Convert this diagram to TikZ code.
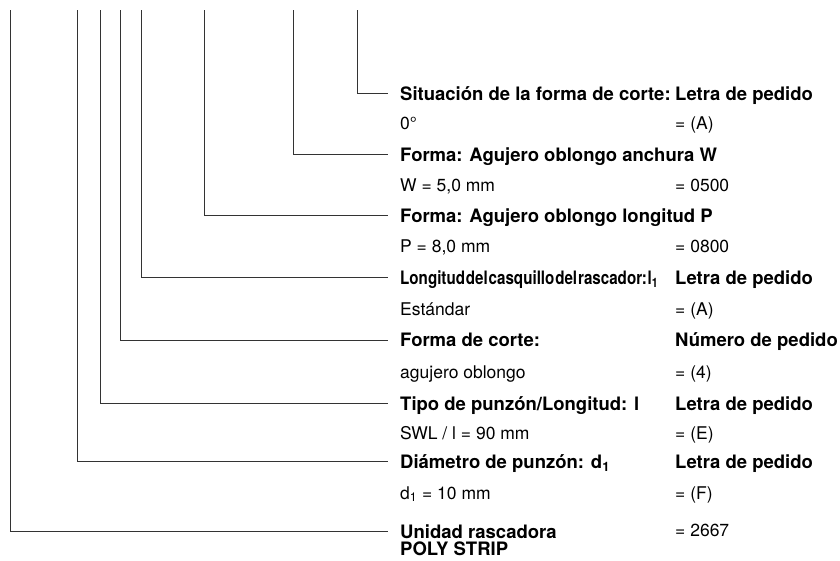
\documentclass[tikz,border=0pt]{standalone}
\usepackage{fontspec}
\setmainfont{TeX Gyre Heros}
\usepackage{graphicx}
\begin{document}
\begin{tikzpicture}[x=1pt,y=-1pt,
  lead/.style={draw=black!80, line width=1pt},
  lbl/.style={anchor=base west, inner sep=0pt, font=\fontsize{18.5}{17}\selectfont\bfseries},
  val/.style={anchor=base west, inner sep=0pt, font=\fontsize{17.5}{17}\selectfont},
  lbltwo/.style={anchor=base west, inner sep=0pt, align=left, font=\fontsize{18.5}{17}\selectfont\bfseries}]
\useasboundingbox (0,0) rectangle (840,560);
% first column labels
\node[lbl] (l1) at (400,100) {Situación de la forma de corte:};
\node[val] (v1) at (400,129) {0°};
\node[lbl] (l2) at (400,161) {Forma: Agujero oblongo anchura W};
\node[val] (v2) at (400,191) {W = 5,0 mm};
\node[lbl] (l3) at (400,222) {Forma: Agujero oblongo longitud P};
\node[val] (v3) at (400,252) {P = 8,0 mm};
\node[lbl] (l4) at (400,284) {\resizebox{258pt}{\height}{Longitud\hspace{1pt}del\hspace{1pt}casquillo\hspace{1pt}del\hspace{1pt}rascador:\hspace{1pt}l\textsubscript{1}}};
\node[val] (v4) at (400,315) {Estándar};
\node[lbl] (l5) at (400,346) {Forma de corte:};
\node[val] (v5) at (400,378) {agujero oblongo};
\node[lbl] (l6) at (400,410) {Tipo de punzón/Longitud: l};
\node[val] (v6) at (400,439) {SWL / l = 90 mm};
\node[lbl] (l7) at (400,468) {Diámetro de punzón: d\textsubscript{1}};
\node[val] (v7) at (400,499) {d\textsubscript{1} = 10 mm};
\node[lbltwo] (l8) at (400,555) {Unidad rascadora\\POLY STRIP};
% second column
\node[lbl] (r1) at (675,100) {Letra de pedido};
\node[val] (w1) at (675,129) {= (A)};
\node[val] (w2) at (675,191) {= 0500};
\node[val] (w3) at (675,252) {= 0800};
\node[lbl] (r4) at (675,284) {Letra de pedido};
\node[val] (w4) at (675,315) {= (A)};
\node[lbl] (r5) at (675,346) {Número de pedido};
\node[val] (w5) at (675,378) {= (4)};
\node[lbl] (r6) at (675,410) {Letra de pedido};
\node[val] (w6) at (675,439) {= (E)};
\node[lbl] (r7) at (675,468) {Letra de pedido};
\node[val] (w7) at (675,499) {= (F)};
\node[val] (w8) at (675,536) {= 2667};
% leader coordinates
\foreach \i/\x/\y in {1/357.7/93, 2/293.3/154, 3/204/215, 4/141.7/277, 5/120/340, 6/100/403, 7/77.7/461, 8/10/531}{
  \coordinate (t\i) at (\x,10);
  \coordinate (e\i) at (388,\y);
  \draw[lead] (t\i) |- (e\i);
}
\end{tikzpicture}
\end{document}
